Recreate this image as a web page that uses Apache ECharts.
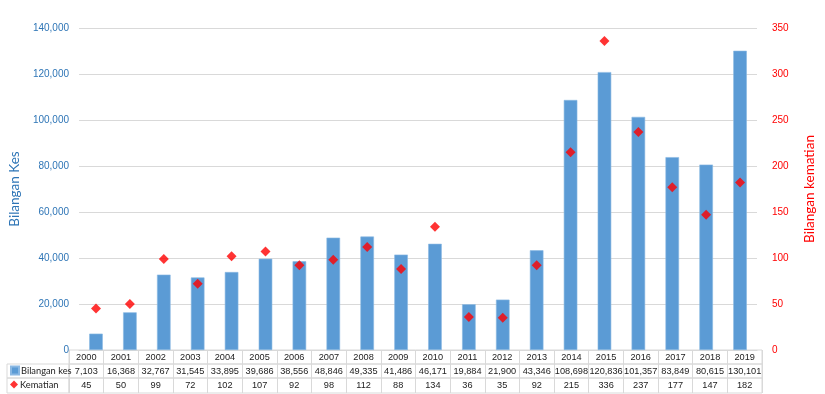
<!DOCTYPE html>
<html><head><meta charset="utf-8">
<script src="https://cdn.jsdelivr.net/npm/echarts@6/dist/echarts.min.js"></script>
<style>html,body{margin:0;padding:0;background:#fff}#c{width:825px;height:394px}</style>
</head><body><div id="c"></div>
<script>
const years = ['2000','2001','2002','2003','2004','2005','2006','2007','2008','2009','2010','2011','2012','2013','2014','2015','2016','2017','2018','2019'];
const bilanganKes = [7103,16368,32767,31545,33895,39686,38556,48846,49335,41486,46171,19884,21900,43346,108698,120836,101357,83849,80615,130101];
const kematian = [45,50,99,72,102,107,92,98,112,88,134,36,35,92,215,336,237,177,147,182];
const leftTicks = {min:0,max:140000,interval:20000};
const rightTicks = {min:0,max:350,interval:50};

const FONT = '"Liberation Sans", Arial, sans-serif';
const LATO = 'Lato, "Liberation Sans", sans-serif';
const BLUE = '#5b9bd5';
const AXBLUE = '#2e75b6';
const RED = '#ff0000';
const GRID = '#d9d9d9';
const fmt = v => v.toLocaleString('en-US');

const L = 69, R = 825-762;
const rowGrid = (top, h) => ({left:L, right:R, top:top, height:h, show:true, borderColor:GRID, borderWidth:1, backgroundColor:'transparent'});
const rowX = (gi, data, h) => ({
  type:'category', gridIndex:gi, data:data, position:'bottom',
  axisLine:{show:false}, axisTick:{show:false},
  splitLine:{show:true, interval:0, lineStyle:{color:GRID, width:1}},
  axisLabel:{inside:true, interval:0, margin:h/2, verticalAlign:'middle', color:'#222', fontSize:9.2, fontFamily:FONT}
});
const hiddenY = gi => ({type:'value', gridIndex:gi, show:false});
const legendItem = (top, name, icon) => ({
  orient:'horizontal', left:10, top:top, padding:0, itemWidth:8, itemHeight:8, itemGap:0, selectedMode:false,
  textStyle:{fontSize:9.3, color:'#222', fontFamily:LATO, padding:[0,0,0,-3]},
  data:[{name:name, icon:icon}]
});

const chart = echarts.init(document.getElementById('c'), null, {renderer:'canvas'});
chart.setOption({
  animation:false,
  textStyle:{fontFamily:FONT},
  grid:[
    {left:L, right:R, top:28, bottom:394-350},
    rowGrid(350,14),
    rowGrid(364,14),
    rowGrid(378,15),
    {left:7, width:L-7, top:364, height:14, show:true, borderColor:GRID, borderWidth:1},
    {left:7, width:L-7, top:378, height:15, show:true, borderColor:GRID, borderWidth:1}
  ],
  legend:[
    legendItem(365.5, 'Bilangan kes', 'rect'),
    legendItem(380, 'Kematian', 'diamond')
  ],
  xAxis:[
    {type:'category', gridIndex:0, data:years, axisLine:{show:true, lineStyle:{color:GRID}}, axisTick:{show:false}, axisLabel:{show:false}},
    rowX(1, years, 14),
    rowX(2, bilanganKes.map(fmt), 14),
    rowX(3, kematian.map(String), 15),
    {type:'category', gridIndex:4, show:false, data:['a']},
    {type:'category', gridIndex:5, show:false, data:['a']}
  ],
  yAxis:[
    {type:'value', gridIndex:0, min:leftTicks.min, max:leftTicks.max, interval:leftTicks.interval,
     name:'Bilangan Kes', nameLocation:'middle', nameGap:56, nameRotate:90,
     nameTextStyle:{color:AXBLUE, fontSize:13.5, fontFamily:LATO},
     axisLine:{show:false}, axisTick:{show:false},
     axisLabel:{color:AXBLUE, fontSize:10, margin:10, fontFamily:FONT, formatter:v=>fmt(v)},
     splitLine:{lineStyle:{color:GRID, width:1}}},
    {type:'value', gridIndex:0, min:rightTicks.min, max:rightTicks.max, interval:rightTicks.interval, position:'right',
     name:'Bilangan kematian', nameLocation:'middle', nameGap:46, nameRotate:90,
     nameTextStyle:{color:RED, fontSize:13.5, fontFamily:LATO},
     axisLine:{show:false}, axisTick:{show:false},
     axisLabel:{color:RED, fontSize:10, margin:15, fontFamily:FONT},
     splitLine:{show:false}},
    hiddenY(1), hiddenY(2), hiddenY(3), hiddenY(4), hiddenY(5)
  ],
  series:[
    {name:'Bilangan kes', type:'bar', xAxisIndex:0, yAxisIndex:0, data:bilanganKes, barWidth:'40%',
     itemStyle:{color:BLUE, borderColor:'#8ab8e3', borderWidth:0.6}},
    {name:'Kematian', type:'scatter', xAxisIndex:0, yAxisIndex:1, data:kematian, symbol:'diamond', symbolSize:10,
     itemStyle:{color:RED}, z:5}
  ]
});
</script></body></html>
